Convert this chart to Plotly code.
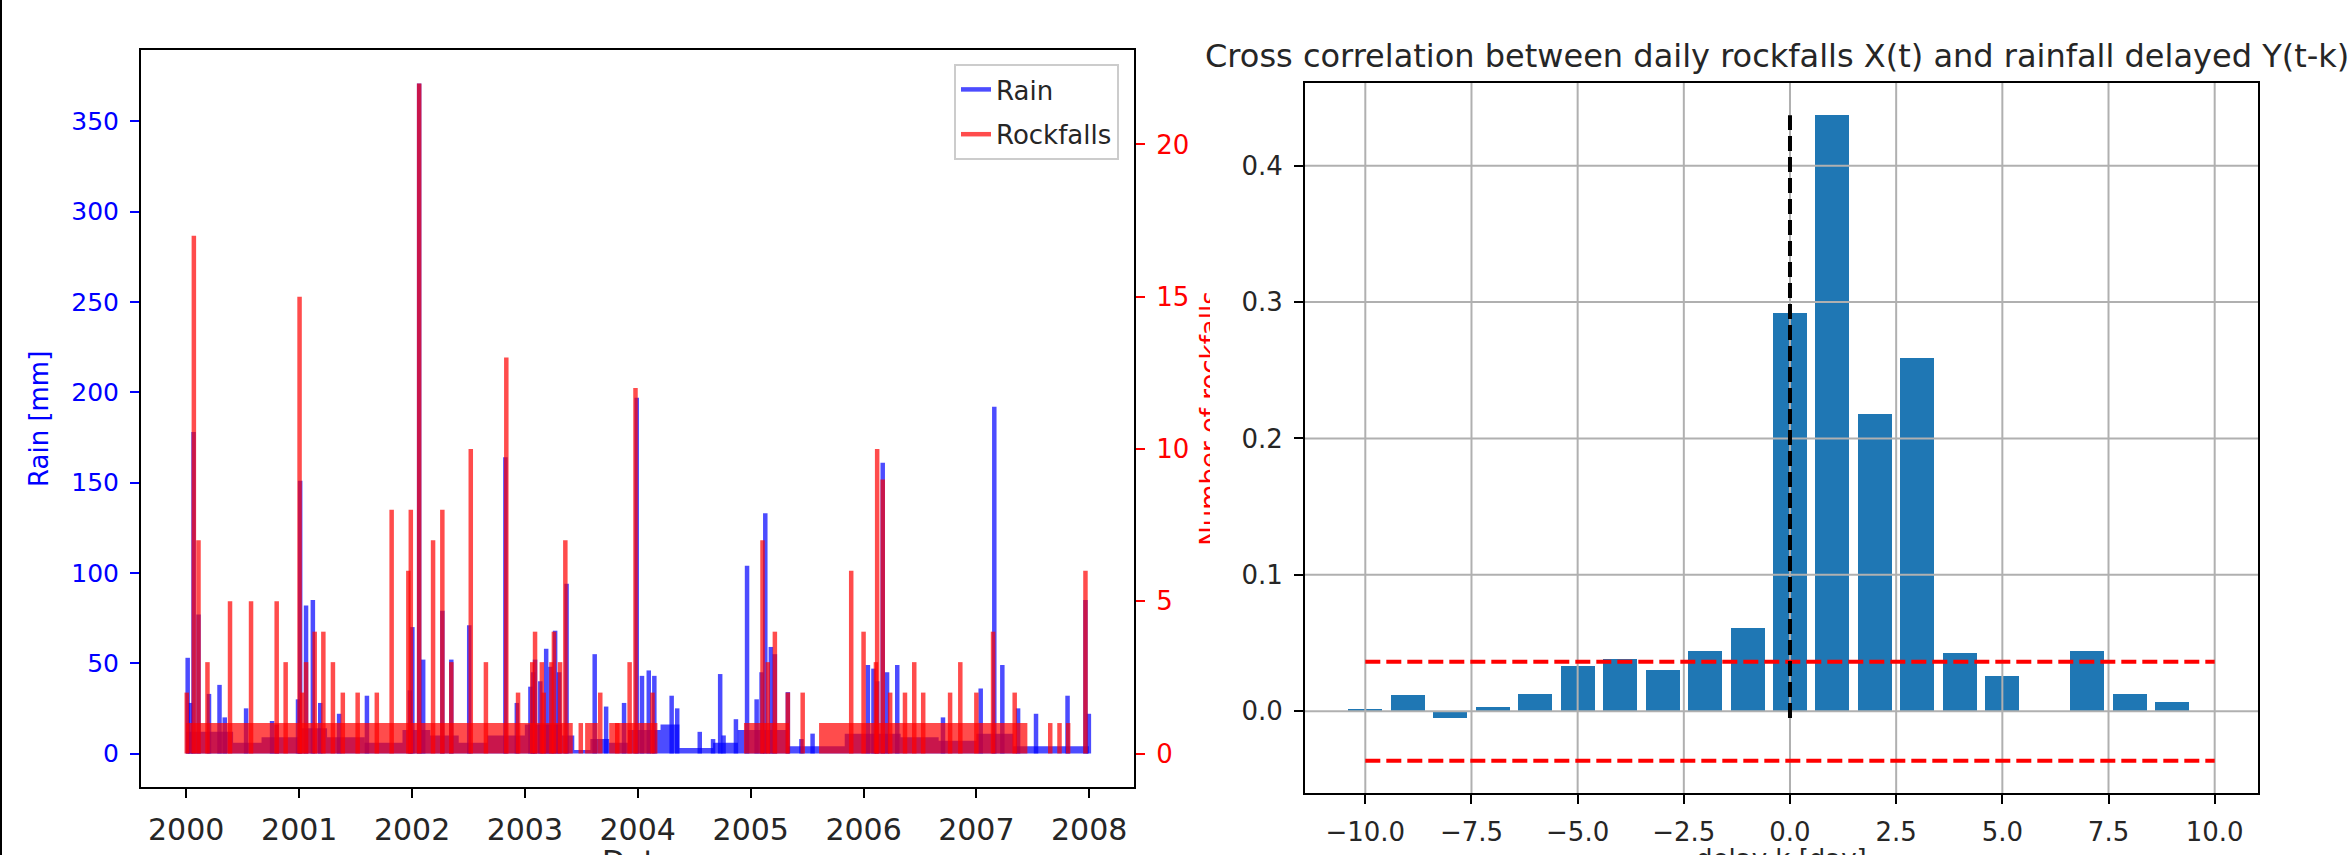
import pandas as pd
import plotly.graph_objects as go

W, H = 2352, 855

# ---------------- data ----------------
# Daily rain peaks [mm]
rain_dates = ["2000-01-06", "2000-01-15", "2000-01-25", "2000-02-10", "2000-03-15", "2000-04-18",
              "2000-05-05", "2000-07-13", "2000-10-05", "2000-10-20", "2000-12-28", "2001-01-04",
              "2001-01-23", "2001-02-14", "2001-03-10", "2001-05-10", "2001-08-08", "2001-12-25",
              "2002-01-02", "2002-01-24", "2002-02-06", "2002-04-09", "2002-05-08", "2002-07-05",
              "2002-10-30", "2002-12-06", "2003-01-19", "2003-01-28", "2003-02-03", "2003-02-20",
              "2003-03-11", "2003-03-25", "2003-04-09", "2003-04-22", "2003-05-16", "2003-08-15",
              "2003-09-21", "2003-11-18", "2003-12-29", "2004-01-15", "2004-02-06", "2004-02-24",
              "2004-04-20", "2004-05-08", "2004-07-20", "2004-09-01", "2004-09-24", "2004-10-05",
              "2004-11-14", "2004-12-20", "2005-01-20", "2005-02-05", "2005-02-17", "2005-03-07",
              "2005-03-20", "2005-05-01", "2005-06-14", "2005-07-20", "2006-01-15", "2006-02-02",
              "2006-02-14", "2006-03-04", "2006-03-18", "2006-04-20", "2006-09-15", "2007-01-15",
              "2007-02-28", "2007-03-26", "2007-05-16", "2007-07-13", "2007-10-23", "2007-12-20",
              "2007-12-31"]
rain_mm = [53, 28, 178, 77, 33, 38,
           20, 25, 18, 16, 30, 151,
           82, 85, 28, 22, 32, 35,
           70, 371, 52, 79, 52, 71,
           164, 28, 37, 45, 52, 40,
           58, 48, 68, 45, 94, 55,
           26, 28, 197, 43, 46, 43,
           32, 25, 12, 8, 44, 10,
           19, 104, 30, 45, 133, 59,
           55, 34, 8, 11, 49, 47,
           40, 161, 45, 49, 20, 36,
           192, 49, 25, 22, 32, 85,
           22]

# Envelope of the dense low-rain band [mm]
rain_band_dates = ["2000-01-01", "2000-06-01", "2000-09-01", "2001-01-01", "2001-04-01", "2001-08-01",
                   "2001-12-01", "2002-03-01", "2002-06-01", "2002-09-01", "2003-01-01", "2003-05-01",
                   "2003-06-10", "2003-08-01", "2003-10-01", "2003-12-01", "2004-03-15", "2004-05-15",
                   "2004-09-01", "2004-11-20", "2005-05-01", "2005-11-01", "2006-05-01", "2006-09-01",
                   "2007-01-01", "2007-05-01", "2007-12-31"]
rain_band_mm = [12, 6, 9, 14, 9, 6,
                13, 10, 6, 10, 16, 10,
                2, 8, 6, 13, 16, 3,
                6, 13, 4, 11, 9, 7,
                11, 4, 4]

# Daily rockfall peaks [count]
rock_dates = ["2000-01-03", "2000-01-26", "2000-02-10", "2000-03-10", "2000-05-22", "2000-07-29",
              "2000-10-20", "2000-11-18", "2001-01-02", "2001-01-10", "2001-01-23", "2001-02-20",
              "2001-03-20", "2001-04-20", "2001-05-22", "2001-07-09", "2001-09-09", "2001-10-27",
              "2001-12-20", "2001-12-28", "2002-01-24", "2002-03-10", "2002-04-09", "2002-05-08",
              "2002-07-10", "2002-08-28", "2002-11-02", "2002-12-10", "2003-01-25", "2003-02-03",
              "2003-02-25", "2003-03-03", "2003-03-28", "2003-04-05", "2003-04-25", "2003-05-12",
              "2003-07-01", "2003-09-02", "2003-10-27", "2003-12-06", "2003-12-25", "2004-02-18",
              "2005-02-08", "2005-02-25", "2005-03-20", "2005-05-01", "2005-06-18", "2005-11-22",
              "2006-01-01", "2006-02-10", "2006-02-14", "2006-03-04", "2006-03-28", "2006-05-15",
              "2006-06-14", "2006-07-13", "2006-10-08", "2006-11-10", "2007-01-01", "2007-02-24",
              "2007-05-05", "2007-08-28", "2007-09-27", "2007-10-25", "2007-12-20"]
rock_counts = [2, 17, 7, 3, 5, 5,
               5, 3, 15, 2, 3, 4,
               4, 3, 2, 2, 2, 8,
               6, 8, 22, 7, 8, 3,
               10, 3, 13, 2, 3, 4,
               3, 2, 3, 4, 3, 7,
               1, 2, 1, 3, 12, 2,
               7, 3, 4, 2, 2, 6,
               4, 3, 10, 9, 2, 2,
               3, 2, 2, 3, 2, 4,
               2, 1, 1, 1, 6]

# Periods where daily rockfalls fill the 0-1 band
rock_band_dates = ["2000-01-01", "2003-06-05", "2003-07-15", "2003-08-25", "2003-10-01", "2004-03-05",
                   "2004-12-10", "2005-05-05", "2005-08-10", "2007-06-15", "2007-12-31"]
rock_band_counts = [1, 0, 1, 0, 1, 0,
                    1, 0, 1, 0, 0]

# Cross-correlation vs delay
lags = [-10, -9, -8, -7, -6, -5, -4, -3, -2, -1, 0, 1, 2, 3, 4, 5, 6, 7, 8, 9]
ccf = [0.002, 0.012, -0.005, 0.003, 0.013, 0.033, 0.038, 0.030, 0.044, 0.061,
       0.292, 0.437, 0.218, 0.259, 0.043, 0.026, 0.0, 0.044, 0.013, 0.007]
conf_level = 0.0363

lag_ticks = [-10, -7.5, -5, -2.5, 0, 2.5, 5, 7.5, 10]
ccf_ticks = [0, 0.1, 0.2, 0.3, 0.4]
rain_ticks = [0, 50, 100, 150, 200, 250, 300, 350]
rock_ticks = [0, 5, 10, 15, 20]

# ---------------- helpers ----------------
def px_x(p):
    return p / W

def px_y(p):
    return 1 - p / H

def spikes(dates, vals):
    xs, ys = [], []
    for d, v in zip(dates, vals):
        xs += [d, d, None]
        ys += [0, v, None]
    return xs, ys

BLUE = "rgba(0,0,255,0.7)"
RED = "rgba(255,0,0,0.7)"
FONT = "DejaVu Sans, Verdana, sans-serif"

fig = go.Figure()

# ---- left panel: rain (y) ----
fig.add_trace(go.Scatter(x=rain_band_dates, y=rain_band_mm, mode="lines", line=dict(width=0, shape="hv"),
                         fill="tozeroy", fillcolor=BLUE, showlegend=False, hoverinfo="skip",
                         xaxis="x", yaxis="y"))
rx, ry = spikes(rain_dates, rain_mm)
fig.add_trace(go.Scatter(x=rx, y=ry, mode="lines", line=dict(color=BLUE, width=4.5), name="Rain",
                         legendgroup="a", xaxis="x", yaxis="y"))
# ---- left panel: rockfalls (y2) ----
fig.add_trace(go.Scatter(x=rock_band_dates, y=rock_band_counts, mode="lines", line=dict(width=0, shape="hv"),
                         fill="tozeroy", fillcolor=RED, showlegend=False, hoverinfo="skip",
                         xaxis="x", yaxis="y2"))
kx, ky = spikes(rock_dates, rock_counts)
fig.add_trace(go.Scatter(x=kx, y=ky, mode="lines", line=dict(color=RED, width=4.5), name="Rockfalls",
                         legendgroup="b", xaxis="x", yaxis="y2"))

# ---- right panel: bars ----
fig.add_trace(go.Bar(x=lags, y=ccf, width=0.8, marker=dict(color="#1f77b4", line=dict(width=0)),
                     showlegend=False, xaxis="x2", yaxis="y3"))

# ---- right-axis label of the left panel, cut by the picture edge ----
fig.add_trace(go.Bar(x=[12], y=[0], base=0, orientation="h", width=1,
                     marker=dict(color="rgba(0,0,0,0)", line=dict(width=0)),
                     text=["Number of rockfalls"], textposition="outside", textangle=-90,
                     constraintext="none", cliponaxis=True,
                     textfont=dict(family=FONT, size=26, color="red"),
                     showlegend=False, hoverinfo="skip", xaxis="x3", yaxis="y4"))

# date range with 5% margins
d0 = pd.Timestamp("2000-01-01")
d1 = pd.Timestamp("2007-12-31")
m = (d1 - d0) * 0.05
xr = [(d0 - m).strftime("%Y-%m-%d %H:%M"), (d1 + m).strftime("%Y-%m-%d %H:%M")]

rmax = max(rain_mm)
rain_range = [-0.05 * rmax, 1.05 * rmax]
kmax = max(rock_counts)
rock_range = [-0.05 * kmax, 1.05 * kmax]

lo = min(min(ccf), -conf_level)
hi = max(ccf)
sp = hi - lo
ccf_range = [lo - 0.05 * sp, hi + 0.05 * sp]
xlo, xhi = min(lags) - 0.4, max(lags[-1] + 0.4, 10)
xs = xhi - xlo
lag_range = [xlo - 0.05 * xs, xhi + 0.05 * xs]

L = dict(x0=141, x1=1134, y0=50, y1=787)
R = dict(x0=1305, x1=2258, y0=83, y1=793)

common = dict(showline=True, linecolor="black", linewidth=2, ticks="outside", ticklen=9, tickwidth=2,
              zeroline=False, showgrid=False)

fig.update_layout(
    width=W, height=H, margin=dict(l=0, r=0, t=0, b=0),
    paper_bgcolor="white", plot_bgcolor="white",
    font=dict(family=FONT, size=26, color="black"),
    xaxis=dict(domain=[px_x(L["x0"]), px_x(L["x1"])], anchor="y", type="date", range=xr,
               dtick="M12", tick0="2000-01-01", tickformat="%Y", mirror=True, tickcolor="black",
               tickfont=dict(size=30, color="#262626"), ticklabelstandoff=6, **common),
    yaxis=dict(domain=[px_y(L["y1"]), px_y(L["y0"])], anchor="x", range=rain_range,
               tickvals=rain_ticks, tickcolor="blue",
               tickfont=dict(size=25, color="blue"), ticklabelstandoff=6, mirror=False, **common),
    yaxis2=dict(overlaying="y", anchor="x", side="right", range=rock_range,
                tickvals=rock_ticks, tickcolor="red",
                tickfont=dict(size=26, color="red"), ticklabelstandoff=6, **common),
    xaxis2=dict(domain=[px_x(R["x0"]), px_x(R["x1"])], anchor="y3", range=lag_range,
                tickvals=lag_ticks, tickformat=".1f", mirror=True,
                tickcolor="black", tickfont=dict(size=26, color="#262626"), ticklabelstandoff=6, **common),
    yaxis3=dict(domain=[px_y(R["y1"]), px_y(R["y0"])], anchor="x2", range=ccf_range,
                tickvals=ccf_ticks, tickformat=".1f", mirror=True,
                tickcolor="black", tickfont=dict(size=26, color="#262626"), ticklabelstandoff=6, **common),
    xaxis3=dict(domain=[px_x(1180), px_x(1210)], anchor="y4", range=[0, 30], visible=False, fixedrange=True),
    yaxis4=dict(domain=[px_y(L["y1"]), px_y(L["y0"])], anchor="x3", range=[-1, 1], visible=False,
                fixedrange=True),
    legend=dict(x=px_x(1119), y=px_y(64), xanchor="right", yanchor="top", bgcolor="white",
                bordercolor="#cccccc", borderwidth=2, font=dict(size=26, color="#262626"),
                traceorder="grouped", tracegroupgap=8),
    showlegend=True,
    bargap=0,
)

shapes = []
# grid of the right panel, drawn over the bars (as in the reference)
GRID = dict(color="#b0b0b0", width=2)
for t in lag_ticks:
    shapes.append(dict(type="line", xref="x2", yref="y3 domain", x0=t, x1=t, y0=0, y1=1,
                       line=GRID, layer="above"))
for t in ccf_ticks:
    shapes.append(dict(type="line", xref="x2 domain", yref="y3", x0=0, x1=1, y0=t, y1=t,
                       line=GRID, layer="above"))
for s in (conf_level, -conf_level):
    shapes.append(dict(type="line", xref="x2", yref="y3", x0=-10, x1=10, y0=s, y1=s,
                       line=dict(color="red", width=4, dash="15px,6px"), layer="above"))
shapes.append(dict(type="line", xref="x2", yref="y3", x0=0, x1=0, y0=min(ccf), y1=max(ccf),
                   line=dict(color="black", width=4, dash="15px,6px"), layer="above"))
# left edge of the picture frame
shapes.append(dict(type="line", xref="paper", yref="paper", x0=px_x(1), x1=px_x(1), y0=0, y1=1,
                   line=dict(color="black", width=2), layer="above"))
fig.update_layout(shapes=shapes)

annotations = [
    dict(text="Cross correlation between daily rockfalls X(t) and rainfall delayed Y(t-k)",
         x=px_x(1777), y=px_y(56), xref="paper", yref="paper",
         xanchor="center", yanchor="middle", showarrow=False, font=dict(size=32, color="#262626")),
    dict(text="Rain [mm]", x=px_x(39), y=px_y(419), xref="paper", yref="paper", textangle=-90,
         xanchor="center", yanchor="middle", showarrow=False, font=dict(size=26, color="blue")),
    dict(text="Date", x=px_x((L["x0"] + L["x1"]) / 2), y=px_y(842), xref="paper", yref="paper",
         xanchor="center", yanchor="top", showarrow=False, font=dict(size=30, color="#262626")),
    dict(text="delay k [day]", x=px_x((R["x0"] + R["x1"]) / 2), y=px_y(842), xref="paper", yref="paper",
         xanchor="center", yanchor="top", showarrow=False, font=dict(size=26, color="#262626")),
]
fig.update_layout(annotations=annotations)

fig.write_html("out.html")
